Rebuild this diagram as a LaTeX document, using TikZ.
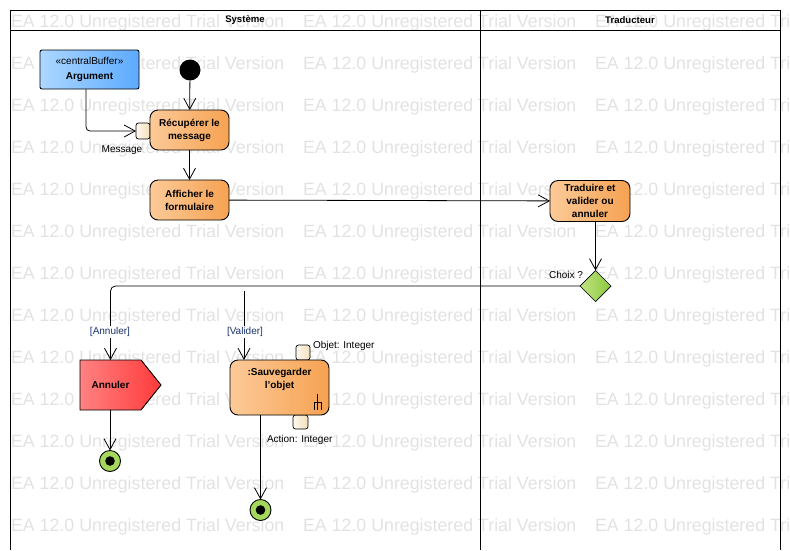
\documentclass[tikz,border=0pt]{standalone}
\usepackage{fontspec}
\setmainfont{Liberation Sans}
\definecolor{actL}{RGB}{252,202,152}
\definecolor{actR}{RGB}{246,162,82}
\definecolor{bufL}{RGB}{172,215,255}
\definecolor{bufR}{RGB}{92,170,255}
\definecolor{sigL}{RGB}{255,130,130}
\definecolor{sigR}{RGB}{255,58,58}
\definecolor{decL}{RGB}{192,228,132}
\definecolor{decR}{RGB}{140,200,62}
\definecolor{pinL}{RGB}{255,249,238}
\definecolor{pinR}{RGB}{242,222,188}
\definecolor{endG}{RGB}{165,215,92}
\definecolor{guard}{RGB}{25,50,110}
\definecolor{watermark}{RGB}{226,226,226}
\usepackage{tikz}
\usetikzlibrary{arrows.meta}
\usetikzlibrary{shapes.geometric}
\tikzstyle{base}=[x=1pt, y=-1pt, inner sep=0pt, outer sep=0pt, line width=0.8pt, font=\fontsize{10}{13}\selectfont]
\tikzstyle{lane}=[draw=black, line width=0.9pt]
\tikzstyle{header}=[font=\fontsize{9.6}{12}\selectfont\bfseries]
\tikzstyle{action}=[draw=black, line width=0.9pt, rounded corners=8pt, left color=actL, right color=actR, align=center, font=\fontsize{10}{13}\selectfont\bfseries]
\tikzstyle{buffer}=[draw=black, line width=0.9pt, rounded corners=2pt, left color=bufL, right color=bufR, align=center, font=\fontsize{10}{15}\selectfont\bfseries]
\tikzstyle{pin}=[draw=black, line width=0.7pt, rounded corners=2.5pt, left color=pinL, right color=pinR]
\tikzstyle{decision}=[diamond, draw=black, line width=0.7pt, left color=decL, right color=decR, minimum width=31pt, minimum height=31pt]
\tikzstyle{initial}=[circle, fill=black, minimum size=21pt]
\tikzstyle{final}=[circle, draw=black, line width=0.9pt, fill=endG, minimum size=21pt, path picture={\fill[black] (path picture bounding box.center) circle (4.8pt);}]
\tikzstyle{flow}=[draw=black, line width=0.8pt, -{Straight Barb[length=11pt, width=12pt]}]
\tikzstyle{guardtext}=[text=guard, fill=white, inner sep=1pt]

\begin{document}
\begin{tikzpicture}[base]
    \useasboundingbox (0,0) rectangle (790,550);
    % watermark
    \begin{scope}
        \clip (0,0) rectangle (790,550);
        \foreach \row in {0,...,12}
            \foreach \col in {-1,0,1,2}
                \node [anchor=base west, text=watermark, font=\fontsize{17.8}{18}\selectfont] (wm-\row-\col) at (11+292*\col, 27+42*\row) {EA 12.0 Unregistered Trial Version};
    \end{scope}
    % lanes
    \draw [lane] (10,550) -- (10,10) -- (780,10) -- (780,550);
    \draw [lane] (10,30) -- (780,30);
    \draw [lane] (480,10) -- (480,550);
    \node [header] (systeme) at (245,20) {Système};
    \node [header] (traducteur) at (630,20) {Traducteur};
    % nodes
    \node [buffer, minimum width=99pt, minimum height=39pt] (argument) at (89.5,69.5) {{\mdseries «centralBuffer»}\\Argument};
    \node [initial] (debut) at (190,70) {};
    \node [pin, minimum width=14pt, minimum height=16pt] (pinmessage) at (143,131) {};
    \node [action, minimum width=79pt, minimum height=40pt] (recuperer) at (189.5,130) {Récupérer le\\message};
    \node (lblmessage) at (122,150) {Message};
    \node [action, minimum width=79pt, minimum height=40pt] (afficher) at (189.5,200) {Afficher le\\formulaire};
    \node [action, minimum width=80pt, minimum height=41pt] (traduire) at (590,201) {Traduire et\\valider ou\\annuler};
    \node [decision] (choix) at (595.5,286) {};
    \node (lblchoix) at (566,275) {Choix ?};
    \shade [draw=black, line width=0.9pt, left color=sigL, right color=sigR] (80,360) -- (141,360) -- (161,385) -- (141,410) -- (80,410) -- cycle;
    \node [minimum width=61pt, minimum height=50pt, font=\fontsize{10}{13}\selectfont\bfseries] (annuler) at (110.5,385) {Annuler};
    \node [pin, minimum width=14pt, minimum height=15pt] (pinobjet) at (303,352.5) {};
    \node [pin, minimum width=15pt, minimum height=14pt] (pinaction) at (300.5,422) {};
    \node [action, minimum width=99pt, minimum height=55pt] (sauver) at (279.5,387.5) {};
    \node [font=\fontsize{10}{13}\selectfont\bfseries, align=center] (sauvertxt) at (279.5,379.5) {:Sauvegarder\\l'objet};
    \draw (317.5,394) -- (317.5,410) (314,410) -- (314,402) -- (321,402) -- (321,410);
    \node [anchor=west] (lblobjet) at (313,346) {Objet: Integer};
    \node [anchor=west] (lblaction) at (267,440) {Action: Integer};
    \node [final] (fin1) at (110,461) {};
    \node [final] (fin2) at (260.5,510) {};
    \coordinate (valstart) at (244,291);
    % flows
    \draw [flow, rounded corners=4pt] ([xshift=-3.5pt]argument.south) |- (pinmessage.west);
    \draw [flow] (debut) -- (recuperer);
    \draw [flow] (recuperer) -- (afficher);
    \draw [flow] (afficher) -- (traduire);
    \draw [flow] (choix |- traduire.south) -- (choix.north);
    \draw [flow, rounded corners=5pt] (choix.west) -| (annuler.north);
    \node [guardtext] (gannuler) at (110,332) {[Annuler]};
    \draw [flow] (valstart) -- (valstart |- sauver.north);
    \node [guardtext] (gvalider) at (245,332) {[Valider]};
    \draw [flow] (fin1 |- annuler.south) -- (fin1);
    \draw [flow] (fin2 |- sauver.south) -- (fin2);
\end{tikzpicture}
\end{document}
